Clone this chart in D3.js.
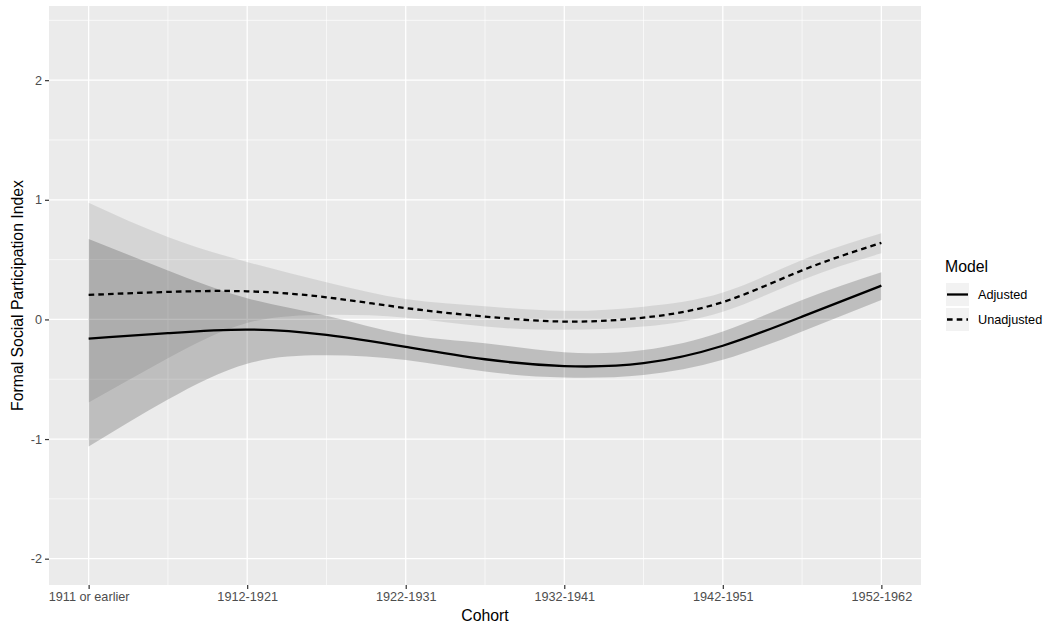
<!DOCTYPE html>
<html>
<head>
<meta charset="utf-8">
<script src="https://cdn.jsdelivr.net/npm/d3@7"></script>
<style>
  html, body { margin: 0; padding: 0; background: #fff; }
  svg { display: block; }
  text { font-family: "Liberation Sans", Arial, Helvetica, sans-serif; }
</style>
</head>
<body>
<svg id="chart" width="1048" height="630"></svg>
<script>
// ---- data ----
const categories = ["1911 or earlier", "1912-1921", "1922-1931", "1932-1941", "1942-1951", "1952-1962"];
const positions = [1, 1.5, 2, 2.5, 3, 3.5, 4, 4.5, 5, 5.5, 6];

const unadjFit   = [0.205, 0.23, 0.235, 0.185, 0.095, 0.024, -0.018, 0.015, 0.145, 0.41, 0.64];
const unadjUpper = [0.976, 0.69, 0.48, 0.31, 0.17, 0.11, 0.072, 0.107, 0.225, 0.497, 0.72];
const unadjLower = [-0.695, -0.325, -0.03, 0.038, 0.015, -0.06, -0.087, -0.06, 0.065, 0.33, 0.553];

const adjFit   = [-0.16, -0.115, -0.085, -0.13, -0.23, -0.333, -0.39, -0.366, -0.22, 0.023, 0.282];
const adjUpper = [0.672, 0.41, 0.177, 0.03, -0.127, -0.2, -0.275, -0.255, -0.10, 0.163, 0.394];
const adjLower = [-1.063, -0.67, -0.37, -0.30, -0.34, -0.436, -0.485, -0.464, -0.338, -0.10, 0.163];

const yTicks = [-2, -1, 0, 1, 2];
const yMinor = [-1.5, -0.5, 0.5, 1.5, 2.5];
const xMinor = [1.5, 2.5, 3.5, 4.5, 5.5];
const legendLabels = ["Adjusted", "Unadjusted"];

// ---- layout ----
const svg = d3.select("#chart");
const P = { left: 49, right: 921, top: 6, bottom: 585 };

const x = d3.scaleLinear().domain([0.75, 6.25]).range([P.left, P.right]);
const y = d3.scaleLinear().domain([-2.22, 2.62]).range([P.bottom, P.top]);

// panel background
svg.append("rect")
  .attr("x", P.left).attr("y", P.top)
  .attr("width", P.right - P.left).attr("height", P.bottom - P.top)
  .attr("fill", "#EBEBEB");

const grid = svg.append("g");
// minor grid
grid.selectAll(".ym").data(yMinor).join("line")
  .attr("x1", P.left).attr("x2", P.right)
  .attr("y1", d => y(d)).attr("y2", d => y(d))
  .attr("stroke", "#fff").attr("stroke-width", 0.65);
grid.selectAll(".xm").data(xMinor).join("line")
  .attr("y1", P.top).attr("y2", P.bottom)
  .attr("x1", d => x(d)).attr("x2", d => x(d))
  .attr("stroke", "#fff").attr("stroke-width", 0.65);
// major grid
grid.selectAll(".yM").data(yTicks).join("line")
  .attr("x1", P.left).attr("x2", P.right)
  .attr("y1", d => y(d)).attr("y2", d => y(d))
  .attr("stroke", "#fff").attr("stroke-width", 1.3);
grid.selectAll(".xM").data(categories.map((c, i) => i + 1)).join("line")
  .attr("y1", P.top).attr("y2", P.bottom)
  .attr("x1", d => x(d)).attr("x2", d => x(d))
  .attr("stroke", "#fff").attr("stroke-width", 1.3);

// ---- ribbons ----
const area = (lo, hi) => d3.area()
  .x((d, i) => x(positions[i]))
  .y0((d, i) => y(lo[i]))
  .y1((d, i) => y(hi[i]))
  .curve(d3.curveNatural)(positions);

svg.append("path").attr("d", area(unadjLower, unadjUpper))
  .attr("fill", "#000").attr("fill-opacity", 0.09);
svg.append("path").attr("d", area(adjLower, adjUpper))
  .attr("fill", "#000").attr("fill-opacity", 0.19);

// ---- lines ----
const line = vals => d3.line()
  .x((d, i) => x(positions[i]))
  .y((d, i) => y(vals[i]))
  .curve(d3.curveNatural)(positions);

svg.append("path").attr("d", line(adjFit))
  .attr("fill", "none").attr("stroke", "#000").attr("stroke-width", 2.3);
svg.append("path").attr("d", line(unadjFit))
  .attr("fill", "none").attr("stroke", "#000").attr("stroke-width", 2.3)
  .attr("stroke-dasharray", "5.6,4.1");

// ---- axes ----
const xAxis = d3.axisBottom(x)
  .tickValues(categories.map((c, i) => i + 1))
  .tickFormat(d => categories[d - 1])
  .tickSize(4).tickPadding(3);
const gx = svg.append("g").attr("transform", `translate(0,${P.bottom})`).call(xAxis);
gx.select(".domain").remove();
gx.selectAll("line").attr("stroke", "#333").attr("stroke-width", 1.2);
gx.selectAll("text").attr("fill", "#4D4D4D").style("font-size", "12.7px")
  .attr("dy", "0.71em").attr("y", 7);

const yAxis = d3.axisLeft(y).tickValues(yTicks).tickFormat(d3.format("d"))
  .tickSize(4).tickPadding(3);
const gy = svg.append("g").attr("transform", `translate(${P.left},0)`).call(yAxis);
gy.select(".domain").remove();
gy.selectAll("line").attr("stroke", "#333").attr("stroke-width", 1.2);
gy.selectAll("text").attr("fill", "#4D4D4D").style("font-size", "12.7px")
  .text(d => d < 0 ? "-" + Math.abs(d) : String(d));

// axis titles
svg.append("text").attr("x", (P.left + P.right) / 2).attr("y", 620.5)
  .attr("text-anchor", "middle").style("font-size", "15.8px").attr("fill", "#000")
  .text("Cohort");
svg.append("text")
  .attr("transform", `translate(23,${(P.top + P.bottom) / 2}) rotate(-90)`)
  .attr("text-anchor", "middle").style("font-size", "15.8px").attr("fill", "#000")
  .text("Formal Social Participation Index");

// ---- legend ----
const lg = svg.append("g");
lg.append("text").attr("x", 945).attr("y", 271.5)
  .style("font-size", "15.8px").attr("fill", "#000").text("Model");
legendLabels.forEach((lab, i) => {
  const ky = 283 + i * 25;
  lg.append("rect").attr("x", 946).attr("y", ky).attr("width", 23).attr("height", 23)
    .attr("fill", "#F2F2F2");
  const ln = lg.append("line").attr("x1", 947).attr("x2", 968)
    .attr("y1", ky + 11.5).attr("y2", ky + 11.5)
    .attr("stroke", "#000").attr("stroke-width", 2.3);
  if (i === 1) ln.attr("stroke-dasharray", "5.6,4.1");
  lg.append("text").attr("x", 978).attr("y", ky + 11.5).attr("dy", "0.35em")
    .style("font-size", "12.7px").attr("fill", "#000").text(lab);
});
</script>
</body>
</html>
